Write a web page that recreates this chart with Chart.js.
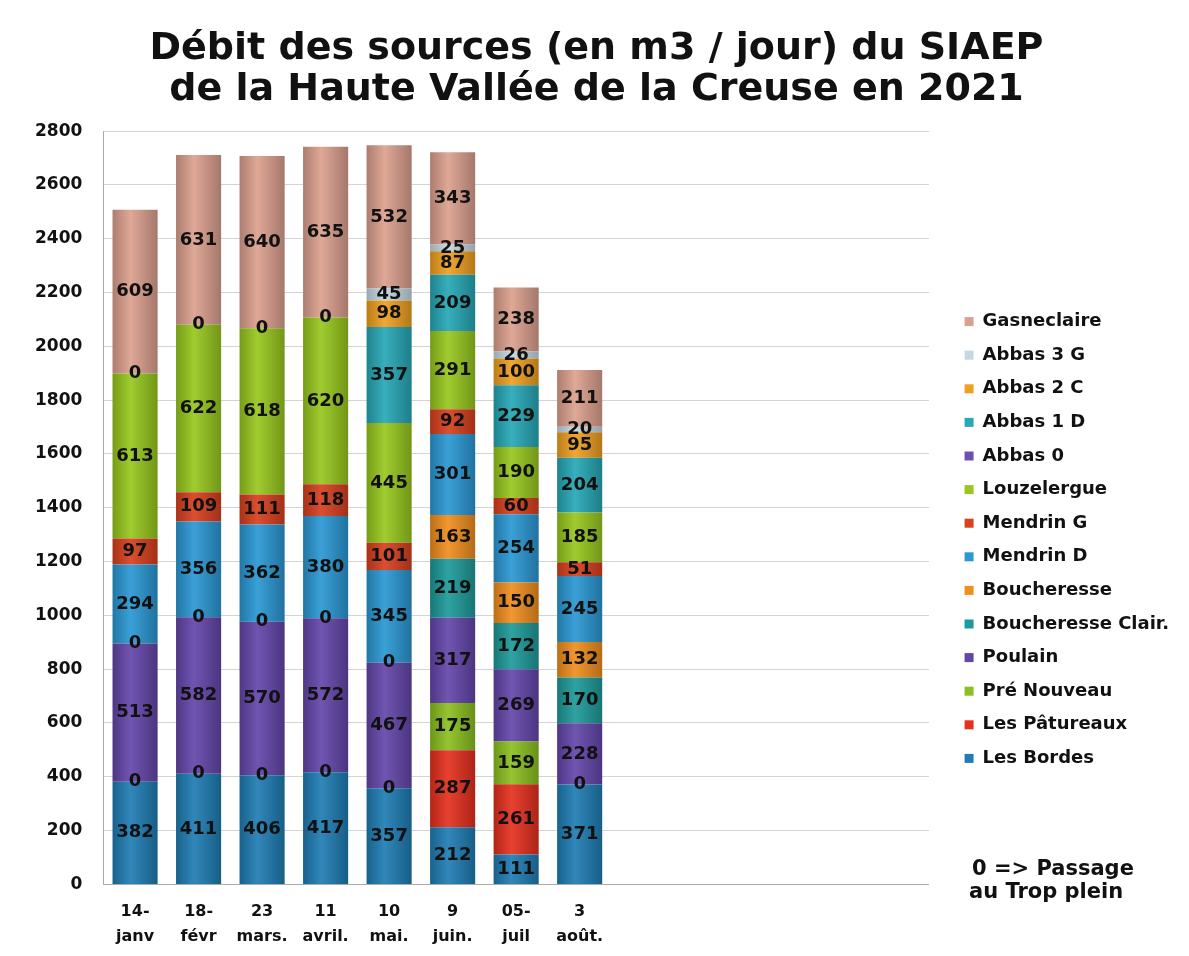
<!DOCTYPE html>
<html>
<head>
<meta charset="utf-8">
<script src="https://cdn.jsdelivr.net/npm/chart.js@4.4.1/dist/chart.umd.min.js"></script>
<style>
  html, body { margin: 0; padding: 0; background: #fff; }
  #wrap { width: 1189px; height: 956px; position: relative; }
</style>
</head>
<body>
<div id="wrap"><canvas id="debit"></canvas></div>
<script>
// categories (13 slots on the axis, only 8 filled)
var categories = [['14-', 'janv'], ['18-', 'févr'], ['23', 'mars.'], ['11', 'avril.'], ['10', 'mai.'], ['9', 'juin.'], ['05-', 'juil'], ['3', 'août.'], '', '', '', '', ''];
var yTicks = [0, 200, 400, 600, 800, 1000, 1200, 1400, 1600, 1800, 2000, 2200, 2400, 2600, 2800];

// séries, du bas vers le haut de la pile
var lesBordes    = [382, 411, 406, 417, 357, 212, 111, 371];
var lesPatureaux = [0, 0, 0, 0, 0, 287, 261, 0];
var preNouveau   = [null, null, null, null, null, 175, 159, null];
var poulain      = [513, 582, 570, 572, 467, 317, 269, 228];
var bouchClair   = [0, 0, 0, 0, 0, 219, 172, 170];
var boucheresse  = [null, null, null, null, null, 163, 150, 132];
var mendrinD     = [294, 356, 362, 380, 345, 301, 254, 245];
var mendrinG     = [97, 109, 111, 118, 101, 92, 60, 51];
var louzelergue  = [613, 622, 618, 620, 445, 291, 190, 185];
var abbas0       = [0, 0, 0, 0, null, null, null, null];
var abbas1D      = [null, null, null, null, 357, 209, 229, 204];
var abbas2C      = [null, null, null, null, 98, 87, 100, 95];
var abbas3G      = [null, null, null, null, 45, 25, 26, 20];
var gasneclaire  = [609, 631, 640, 635, 532, 343, 238, 211];

var FONT = 'DejaVu Sans';

// petit effet cylindre : dégradé horizontal sur chaque barre
function shade(hex, f) {
    var n = parseInt(hex.slice(1), 16);
    var r = n >> 16, g = (n >> 8) & 255, b = n & 255;
    function c(v) { return Math.max(0, Math.min(255, Math.round(f < 0 ? v * (1 + f) : v + (255 - v) * f))); }
    return 'rgb(' + c(r) + ',' + c(g) + ',' + c(b) + ')';
}

function ds(label, data, color) {
    return {
        label: label,
        data: data,
        stack: 's',
        borderWidth: 0,
        color0: color,
        backgroundColor: function (c) {
            var chart = c.chart, xs = chart.scales.x;
            if (c.type !== 'data' || !xs || !chart.chartArea) return color;
            var cx = xs.getPixelForValue(c.dataIndex);
            var w = xs.width / categories.length * 0.71;
            var g = chart.ctx.createLinearGradient(cx - w / 2, 0, cx + w / 2, 0);
            g.addColorStop(0, shade(color, -0.22));
            g.addColorStop(0.4, shade(color, 0.08));
            g.addColorStop(1, shade(color, -0.25));
            return g;
        }
    };
}

// étiquettes de valeur au centre de chaque segment
var valueLabels = {
    id: 'valueLabels',
    afterDatasetsDraw: function (chart) {
        var ctx = chart.ctx;
        ctx.save();
        ctx.font = 'bold 18px ' + FONT;
        ctx.fillStyle = '#111';
        ctx.textAlign = 'center';
        ctx.textBaseline = 'middle';
        chart.data.datasets.forEach(function (d, i) {
            var meta = chart.getDatasetMeta(i);
            if (meta.hidden) return;
            meta.data.forEach(function (el, j) {
                var v = d.data[j];
                if (v === null || v === undefined) return;
                ctx.fillText(String(v), el.x, (el.y + el.base) / 2);
            });
        });
        ctx.restore();
    }
};

// note en bas à droite
var note = {
    id: 'note',
    afterDraw: function (chart) {
        var ctx = chart.ctx;
        ctx.save();
        ctx.font = 'bold 21px ' + FONT;
        ctx.fillStyle = '#111';
        ctx.textAlign = 'left';
        ctx.textBaseline = 'middle';
        ctx.fillText('0 => Passage', 972, 870);
        ctx.fillText('au Trop plein', 969, 893);
        ctx.restore();
    }
};

var myChart = new Chart(document.getElementById('debit'), {
    type: 'bar',
    data: {
        labels: categories,
        datasets: [
            ds('Les Bordes', lesBordes, '#1f7db4'),
            ds('Les Pâtureaux', lesPatureaux, '#e5301e'),
            ds('Pré Nouveau', preNouveau, '#8cc020'),
            ds('Poulain', poulain, '#6446aa'),
            ds('Boucheresse Clair.', bouchClair, '#1e9a9a'),
            ds('Boucheresse', boucheresse, '#f08e1e'),
            ds('Mendrin D', mendrinD, '#2a98d4'),
            ds('Mendrin G', mendrinG, '#d8401e'),
            ds('Louzelergue', louzelergue, '#98c81e'),
            ds('Abbas 0', abbas0, '#6a50b4'),
            ds('Abbas 1 D', abbas1D, '#26a8b6'),
            ds('Abbas 2 C', abbas2C, '#f0a020'),
            ds('Abbas 3 G', abbas3G, '#c4d8e4'),
            ds('Gasneclaire', gasneclaire, '#dca08e')
        ]
    },
    options: {
        responsive: true,
        maintainAspectRatio: false,
        animation: false,
        layout: { padding: { left: 14, right: 10, top: 0, bottom: 0 } },
        datasets: { bar: { barPercentage: 0.71, categoryPercentage: 1 } },
        scales: {
            x: {
                stacked: true,
                grid: { display: false },
                border: { color: '#aaa' },
                ticks: { color: '#111', padding: 7, font: { family: FONT, size: 16, weight: 'bold', lineHeight: 1.55 }, maxRotation: 0, autoSkip: false }
            },
            y: {
                stacked: true,
                min: 0,
                max: 2800,
                afterBuildTicks: function (axis) { axis.ticks = yTicks.map(function (v) { return { value: v }; }); },
                grid: { color: '#d4d4d4', drawTicks: false },
                border: { color: '#aaa' },
                ticks: {
                    color: '#111', padding: 21,
                    font: { family: FONT, size: 17, weight: 'bold' },
                    callback: function (v) { return String(v); }
                }
            },
            // espace vide entre la zone de tracé et la légende
            gap: {
                type: 'linear',
                position: 'right',
                display: true,
                grid: { display: false },
                border: { display: false },
                ticks: { display: false },
                afterFit: function (axis) { axis.width = 20; }
            }
        },
        plugins: {
            title: {
                display: true,
                text: ['Débit des sources (en m3 / jour) du SIAEP', 'de la Haute Vallée de la Creuse en 2021'],
                color: '#111',
                font: { family: FONT, size: 38, weight: 'bold', lineHeight: 1.08 },
                padding: { top: 29, bottom: 20 }
            },
            legend: {
                position: 'right',
                reverse: true,
                maxWidth: 300,
                title: { display: true, text: ' ', font: { size: 10 }, padding: { top: 112, bottom: 0 } },
                labels: {
                    color: '#111',
                    boxWidth: 9,
                    boxHeight: 9,
                    padding: 15.6,
                    font: { family: FONT, size: 18, weight: 'bold' },
                    generateLabels: function (chart) {
                        return chart.data.datasets.map(function (d, i) {
                            return {
                                text: d.label, datasetIndex: i,
                                fillStyle: d.color0, strokeStyle: d.color0, lineWidth: 0,
                                fontColor: '#111', hidden: false
                            };
                        });
                    }
                }
            },
            tooltip: { enabled: false }
        }
    },
    plugins: [valueLabels, note]
});
</script>
</body>
</html>
